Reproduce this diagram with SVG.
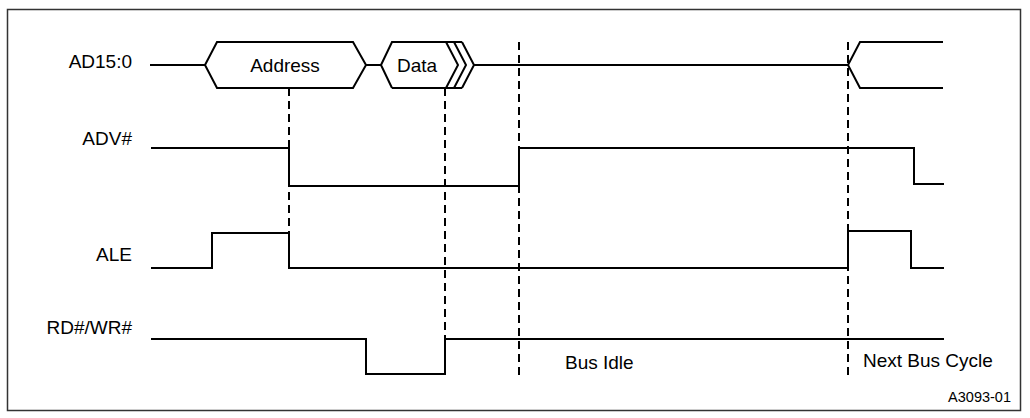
<svg xmlns="http://www.w3.org/2000/svg" width="1030" height="418" viewBox="0 0 1030 418">
<style>
.sig{fill:none;stroke:#000;stroke-width:2;stroke-linejoin:miter}
.dash{fill:none;stroke:#000;stroke-width:2;stroke-dasharray:8 5}
.lbl{font-family:"Liberation Sans",Arial,sans-serif;font-size:19px;fill:#000}
.id{font-family:"Liberation Sans",Arial,sans-serif;font-size:14.5px;fill:#000}
</style>
<rect x="7.5" y="9.5" width="1013" height="401" fill="#fff" stroke="#333" stroke-width="1.5"/>
<g id="labels">
<text class="lbl" x="132" y="68" text-anchor="end">AD15:0</text>
<text class="lbl" x="132" y="145" text-anchor="end">ADV#</text>
<text class="lbl" x="132" y="261" text-anchor="end">ALE</text>
<text class="lbl" x="132" y="334" text-anchor="end">RD#/WR#</text>
</g>
<g id="ad-bus">
<path class="sig" d="M150,65 H205"/>
<path class="sig" d="M205,65 L217,42 H353 L366,65 L353,88 H217 Z"/>
<text class="lbl" x="285" y="72" text-anchor="middle">Address</text>
<path class="sig" d="M366,65 H381"/>
<path class="sig" d="M381,65 L392,42 H462 M392,88 H462 M381,65 L392,88"/>
<path class="sig" d="M446,42 L458,65 L446,88 M454,42 L466,65 L454,88 M462,42 L474,65 L462,88"/>
<text class="lbl" x="417" y="72" text-anchor="middle">Data</text>
<path class="sig" d="M474,65 H848 L860,42 H943 M848,65 L860,88 H943"/>
</g>
<g id="adv">
<path class="sig" d="M151,148 H289 V186 H519 V148 H914 V184 H944"/>
</g>
<g id="ale">
<path class="sig" d="M151,268 H212 V233 H289 V268 H848 V231 H911 V268 H944"/>
</g>
<g id="rdwr">
<path class="sig" d="M151,339 H366 V374 H445 V339 H944"/>
</g>
<g id="connectors">
<path class="dash" d="M289,88 V233"/>
<path class="dash" d="M445,88 V339"/>
<path class="dash" d="M519,42 V376"/>
<path class="dash" d="M848,42 V376"/>
</g>
<g id="annotations">
<text class="lbl" x="565" y="369">Bus Idle</text>
<text class="lbl" x="863" y="367">Next Bus Cycle</text>
<text class="id" x="1011" y="402" text-anchor="end">A3093-01</text>
</g>
</svg>
